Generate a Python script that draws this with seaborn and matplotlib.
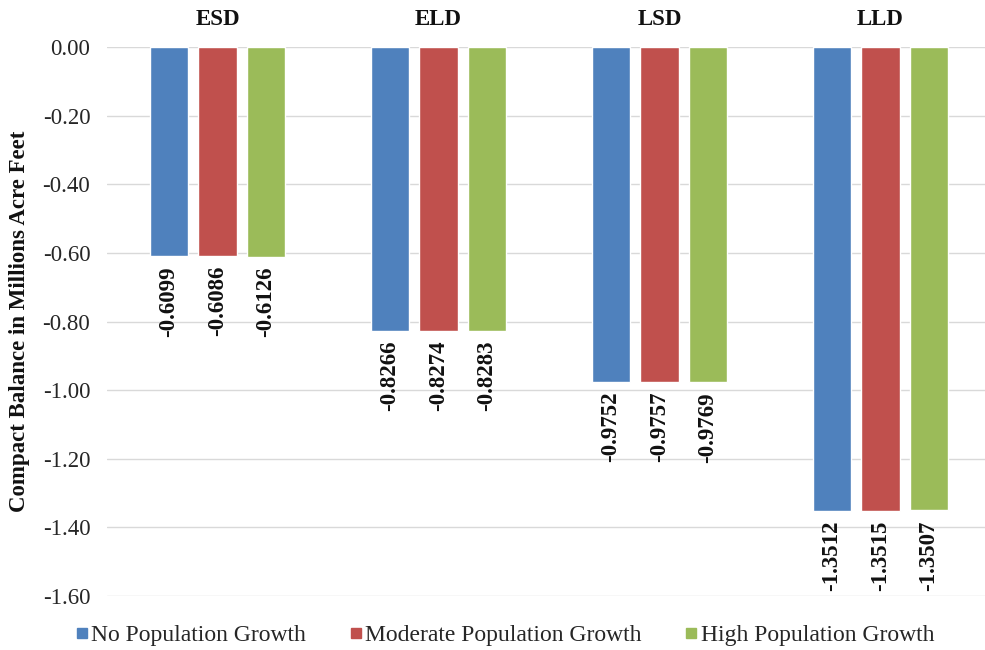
import matplotlib
matplotlib.use("Agg")
import matplotlib.pyplot as plt
import seaborn as sns
import pandas as pd
from matplotlib.lines import Line2D

categories = ["ESD", "ELD", "LSD", "LLD"]
series = ["No Population Growth", "Moderate Population Growth", "High Population Growth"]
no_growth = [-0.6099, -0.8266, -0.9752, -1.3512]
moderate_growth = [-0.6086, -0.8274, -0.9757, -1.3515]
high_growth = [-0.6126, -0.8283, -0.9769, -1.3507]
yticks = [0.0, -0.2, -0.4, -0.6, -0.8, -1.0, -1.2, -1.4, -1.6]
colors = ["#4F81BD", "#C0504D", "#9BBB59"]

rows = []
for s, vals in zip(series, [no_growth, moderate_growth, high_growth]):
    for c, v in zip(categories, vals):
        rows.append({"Scenario": c, "Series": s, "Value": v})
df = pd.DataFrame(rows)

sns.set_theme(style="white")
plt.rcParams["font.family"] = ["Liberation Serif", "DejaVu Serif"]

fig = plt.figure(figsize=(9.85, 6.5), dpi=100)
ax = fig.add_axes([107 / 985, 1 - 596 / 650, 1 - 107 / 985, (596 - 47) / 650])

sns.barplot(data=df, x="Scenario", y="Value", hue="Series", order=categories,
            hue_order=series, palette=colors, width=0.658, gap=0.2,
            errorbar=None, ax=ax, legend=False, saturation=1)

for cont in ax.containers:
    ax.bar_label(cont, fmt="%.4f", rotation=90, padding=7,
                 fontsize=16.5, fontweight="bold", color="#111111")

ax.set_ylim(-1.6, 0)
ax.set_xlim(-0.5, 3.5 - 6 / 221)
ax.set_yticks(yticks)
ax.set_yticklabels([f"{t:.2f}" if t != 0 else "0.00" for t in yticks],
                   fontsize=16.5, color="#262626")
ax.tick_params(axis="y", length=0, pad=12)
ax.xaxis.tick_top()
ax.tick_params(axis="x", length=0, pad=12, labelsize=16.5)
for lab in ax.get_xticklabels():
    lab.set_fontweight("bold")
    lab.set_color("#111111")
ax.set_xlabel("")
ax.set_ylabel("Compact Balance in Millions Acre Feet", fontsize=16.5,
              fontweight="bold", color="#111111")
ax.yaxis.set_label_coords(-(107 - 20) / 878, 0.5)
ax.yaxis.label.set_verticalalignment("center")
ax.grid(axis="y", color="#D9D9D9", linewidth=1)
ax.set_axisbelow(True)
for sp in ax.spines.values():
    sp.set_visible(False)

handles = [Line2D([0], [0], marker="s", linestyle="", markersize=7,
                  markerfacecolor=c, markeredgecolor=c) for c in colors]
fig.legend(handles, series, loc="center", bbox_to_anchor=(0.511, 1 - 635 / 650),
           ncol=3, frameon=False, fontsize=17, handletextpad=0.0,
           columnspacing=1.7, handlelength=0.8)

fig.savefig("out.png", dpi=100)
